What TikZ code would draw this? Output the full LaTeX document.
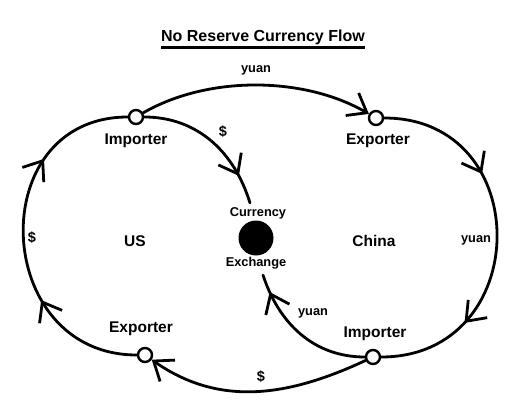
\documentclass[tikz,border=0pt]{standalone}
\usepackage{fontspec}
\setmainfont{Liberation Sans}
\usetikzlibrary{arrows.meta,decorations.markings}

\begin{document}
\begin{tikzpicture}
[
	x 					= 1pt,
	y 					= 1pt,
	flowtip/.tip 		= {Straight Barb[length = 17pt, width = 26pt]},
	flow/.style 		=
	{
		line width		= 2.8pt,
		line cap		= round,
		line join		= round
	},
	arrow at/.style 	= {postaction = {decorate, decoration = {markings, mark = at position #1 with {\arrow{flowtip}}}}},
	trader/.style 		= {circle, draw, line width = 2.4pt, fill = white, minimum size = 14pt, inner sep = 0pt},
	role/.style 		= {font = \fontsize{15.5}{18}\selectfont\bfseries, inner sep = 0pt},
	money/.style 		= {font = \fontsize{12.8}{15}\selectfont\bfseries, inner sep = 0pt},
]

\useasboundingbox (0,0) rectangle (523,416);

% title
\node [font = \fontsize{16}{19}\selectfont\bfseries, inner sep = 0pt, anchor = base] (title) at (263,374.3) {No Reserve Currency Flow};
\draw [line width = 2.8pt] ([yshift = -5.6pt] title.base west) -- ([yshift = -5.6pt] title.base east);

% traders
\node [trader] (usimp) at (136,299) {};
\node [trader] (usexp) at (145,61) {};
\node [trader] (cnexp) at (376,298) {};
\node [trader] (cnimp) at (373,59) {};

% currency exchange
\node [circle, fill, minimum size = 35pt, inner sep = 0pt] (fx) at (256,178) {};
\coordinate (fxin) at ([shift = {(-6,35)}] fx.center);
\coordinate (fxout) at ([shift = {(7,-37)}] fx.center);

\node [money] (fxtop) at (258,203) {Currency};
\node [money] (fxbot) at (256,153) {Exchange};

\node [role] (usimplabel) at (136,275) {Importer};
\node [role] (cnexplabel) at (378,275) {Exporter};
\node [role] (cnimplabel) at (375,82) {Importer};
\node [role] (usexplabel) at (141,87) {Exporter};
\node [role] (us) at (135,175) {US};
\node [role] (china) at (374,175) {China};

% flows
\draw [flow, -flowtip] (usimp) to [out = 30, in = 150, looseness = 0.85] (cnexp);
\draw [flow, -flowtip] (cnimp) to [out = 205, in = -35] (usexp);
\draw [flow, arrow at = 0.32, arrow at = 0.73] (usexp) to [out = 180, in = 180, looseness = 1.56] (usimp);
\draw [flow, arrow at = 0.32, arrow at = 0.75] (cnexp) to [out = 0, in = 0, looseness = 1.63] (cnimp);
\draw [flow, arrow at = 0.8] (usimp) to [out = 0, in = 107] (fxin);
\draw [flow, arrow at = 0.87] (cnimp) to [out = 180, in = -72] (fxout);

% what moves
\node [money] (toplabel) at (256,346) {yuan};
\node [money] (rightlabel) at (476,176) {yuan};
\node [money] (cnfxlabel) at (313,103) {yuan};
\node [money, font = \fontsize{14.5}{17}\selectfont\bfseries] (usfxlabel) at (223,284) {\$};
\node [money, font = \fontsize{14.5}{17}\selectfont\bfseries] (leftlabel) at (32,178) {\$};
\node [money, font = \fontsize{14.5}{17}\selectfont\bfseries] (bottomlabel) at (261,39) {\$};

\end{tikzpicture}
\end{document}
